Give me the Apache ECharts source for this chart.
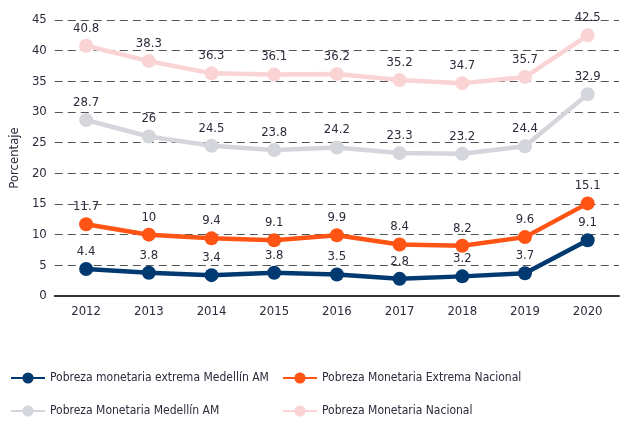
<!DOCTYPE html>
<html><head><meta charset="utf-8">
<script src="https://cdn.jsdelivr.net/npm/echarts@6/dist/echarts.min.js"></script>
<style>html,body{margin:0;padding:0;background:#fff}#c{width:627px;height:422px}</style>
</head><body><div id="c"></div>
<script>
const years = ['2012','2013','2014','2015','2016','2017','2018','2019','2020'];
const extremaMedellin = [4.4,3.8,3.4,3.8,3.5,2.8,3.2,3.7,9.1];
const extremaNacional = [11.7,10,9.4,9.1,9.9,8.4,8.2,9.6,15.1];
const monetariaMedellin = [28.7,26,24.5,23.8,24.2,23.3,23.2,24.4,32.9];
const monetariaNacional = [40.8,38.3,36.3,36.1,36.2,35.2,34.7,35.7,42.5];
const yTicks = [0,5,10,15,20,25,30,35,40,45];
const names = ['Pobreza monetaria extrema Medellín AM','Pobreza Monetaria Extrema Nacional','Pobreza Monetaria Medellín AM','Pobreza Monetaria Nacional'];
const colors = ['#003a70','#ff5414','#d4d6dc','#fad4d4'];
const font = '"Liberation Sans Narrow","DejaVu Sans Condensed","Liberation Sans",sans-serif';
const txt = '#2b2b3b';
const chart = echarts.init(document.getElementById('c'));
function mk(i, data){
  return {name:names[i], type:'line', data:data, symbol:'circle', symbolSize:14,
    lineStyle:{width:4.5,color:colors[i]}, itemStyle:{color:colors[i]},
    label:{show:true, position:'top', distance:4, color:txt, fontSize:13, fontFamily:font},
    z: 10-i};
}
const legPos = [[10,372],[282,372],[10,405],[282,405]];
function leg(i){
  return {show:true, data:[names[i]], orient:'horizontal', left:legPos[i][0], top:legPos[i][1],
    itemWidth:34, itemHeight:14, itemGap:5, padding:0,
    textStyle:{color:txt,fontSize:12,fontFamily:font}};
}
chart.setOption({
  animation:false,
  grid:{left:45,right:8,top:20,bottom:126,containLabel:false},
  xAxis:{type:'category',data:years,boundaryGap:true,
    axisLine:{lineStyle:{color:'#333',width:2}},axisTick:{show:false},
    axisLabel:{color:txt,fontSize:13,fontFamily:font,margin:9}},
  yAxis:{type:'value',min:0,max:45,interval:5,name:'Porcentaje',nameLocation:'middle',nameGap:25,
    nameTextStyle:{color:txt,fontSize:13,fontFamily:font},
    axisLine:{show:false},axisTick:{show:false},
    axisLabel:{color:txt,fontSize:13,fontFamily:font,margin:8,formatter:v=>yTicks.includes(v)?String(v):''},
    splitLine:{lineStyle:{type:[8,5],color:'#555',width:1}}},
  legend:[leg(0),leg(1),leg(2),leg(3)],
  series:[mk(0,extremaMedellin),mk(1,extremaNacional),mk(2,monetariaMedellin),mk(3,monetariaNacional)]
});
</script></body></html>
